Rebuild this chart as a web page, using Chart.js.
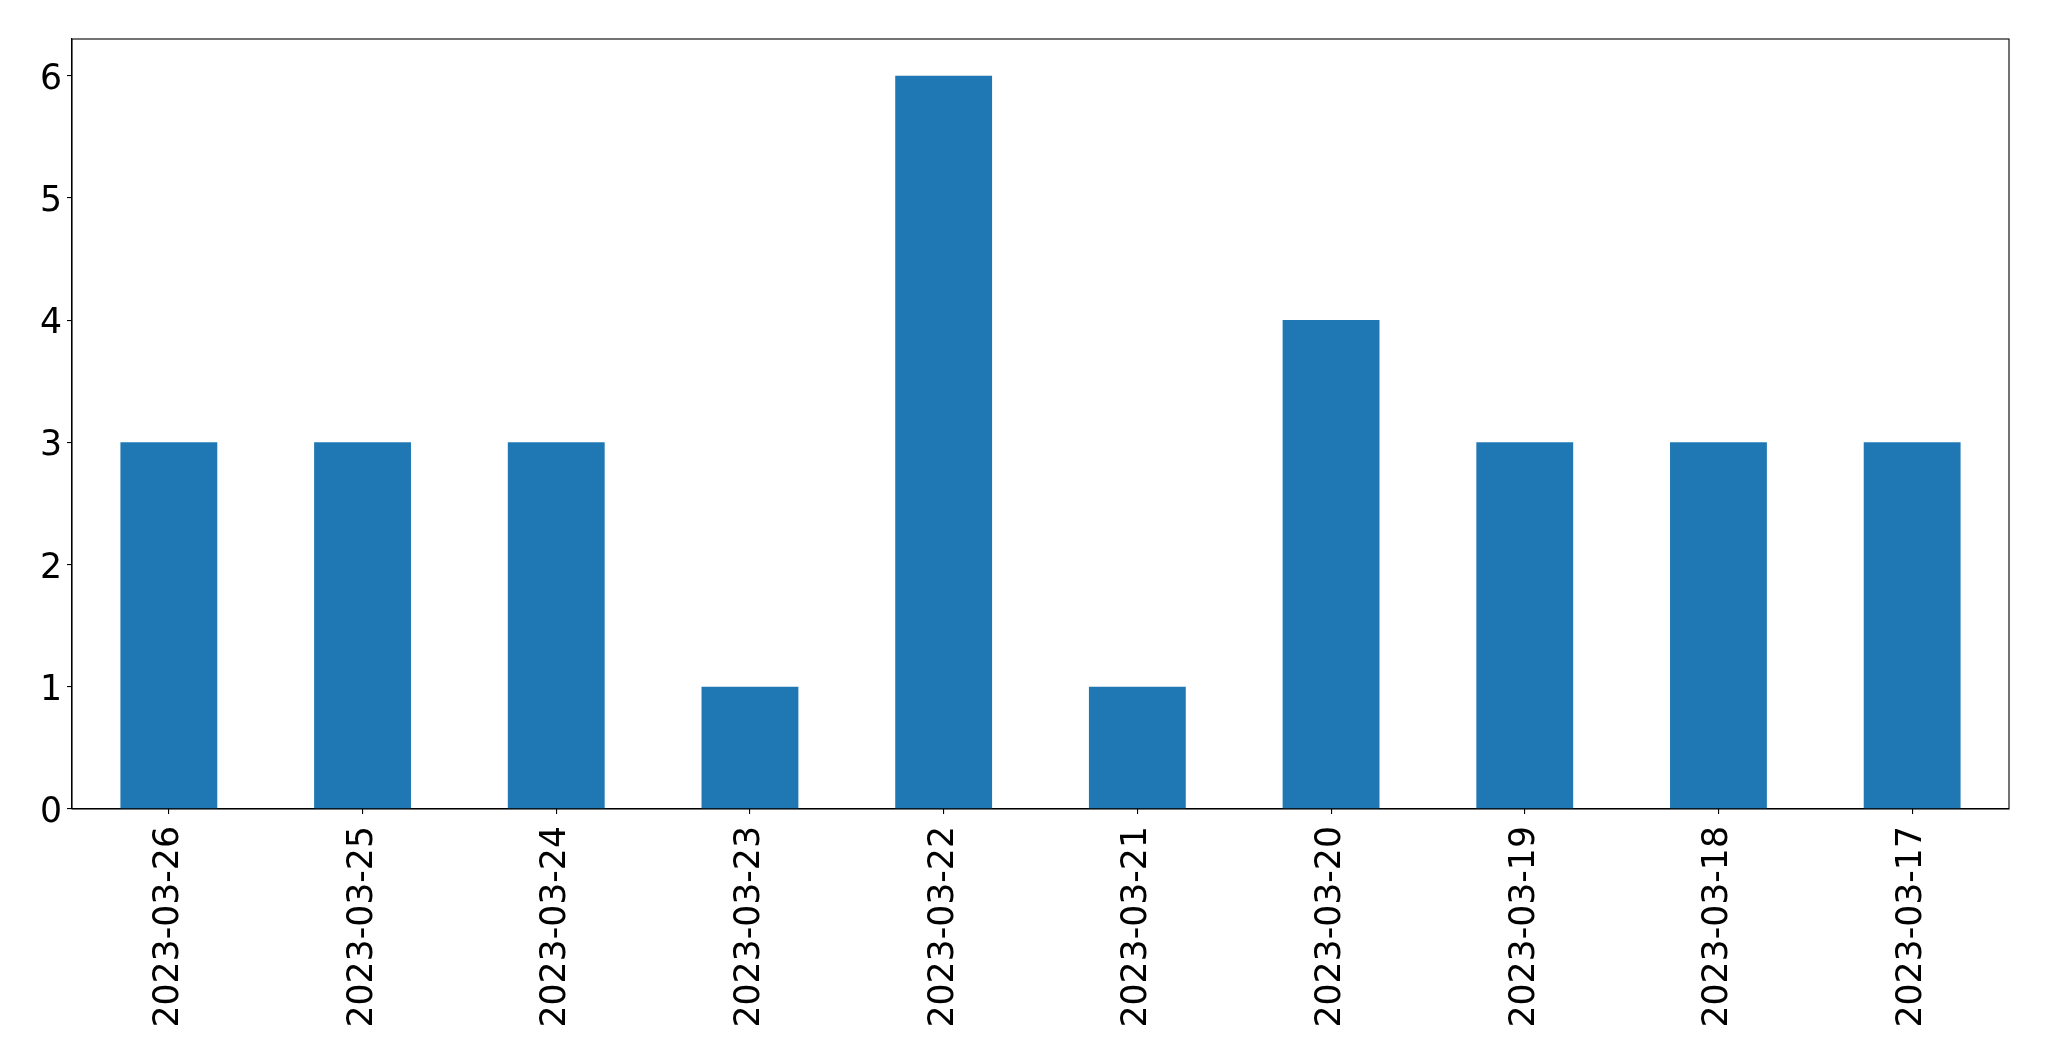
<!DOCTYPE html>
<html>
<head>
<meta charset="utf-8">
<script src="https://cdn.jsdelivr.net/npm/chart.js@4/dist/chart.umd.min.js"></script>
<style>
html,body{margin:0;padding:0;background:#fff;overflow:hidden;}
canvas{display:block;}
</style>
</head>
<body>
<canvas id="c" width="2049" height="1061"></canvas>
<script>
const categories = ["2023-03-26","2023-03-25","2023-03-24","2023-03-23","2023-03-22","2023-03-21","2023-03-20","2023-03-19","2023-03-18","2023-03-17"];
const values = [3,3,3,1,6,1,4,3,3,3];
const yTicks = [0,1,2,3,4,5,6];

const FONT = {family: "'DejaVu Sans'", size: 34.7};

const frame = {
  id: 'frame',
  afterDraw(chart) {
    const a = chart.chartArea, ctx = chart.ctx;
    ctx.save();
    ctx.strokeStyle = '#000';
    ctx.lineWidth = 1.1;
    ctx.strokeRect(a.left, a.top, a.right - a.left, a.bottom - a.top);
    ctx.restore();
  }
};

new Chart(document.getElementById('c'), {
  type: 'bar',
  data: {
    labels: categories,
    datasets: [{data: values, backgroundColor: '#1f77b4', borderWidth: 0, categoryPercentage: 1.0, barPercentage: 0.5}]
  },
  options: {
    responsive: false,
    animation: false,
    devicePixelRatio: 1,
    layout: {padding: {left: 0, top: 39, right: 40, bottom: 0}},
    plugins: {legend: {display: false}, tooltip: {enabled: false}},
    scales: {
      x: {
        offset: true,
        grid: {display: true, drawOnChartArea: false, drawTicks: true, tickLength: 5, color: '#000', offset: false, lineWidth: 1.1},
        border: {display: true, color: '#000', width: 1.1},
        ticks: {autoSkip: false, maxRotation: 90, minRotation: 90, color: '#000', font: FONT, padding: 12},
        afterFit(s) { s.height = 252; }
      },
      y: {
        min: 0, max: 6.3,
        grid: {display: true, drawOnChartArea: false, drawTicks: true, tickLength: 5, color: '#000', lineWidth: 1.1},
        border: {display: true, color: '#000', width: 1.1},
        afterBuildTicks(s) { s.ticks = yTicks.map(v => ({value: v})); },
        ticks: {color: '#000', font: FONT, padding: 5, includeBounds: false, labelOffset: 4},
        afterFit(s) { s.width = 72; }
      }
    }
  },
  plugins: [frame]
});
</script>
</body>
</html>
